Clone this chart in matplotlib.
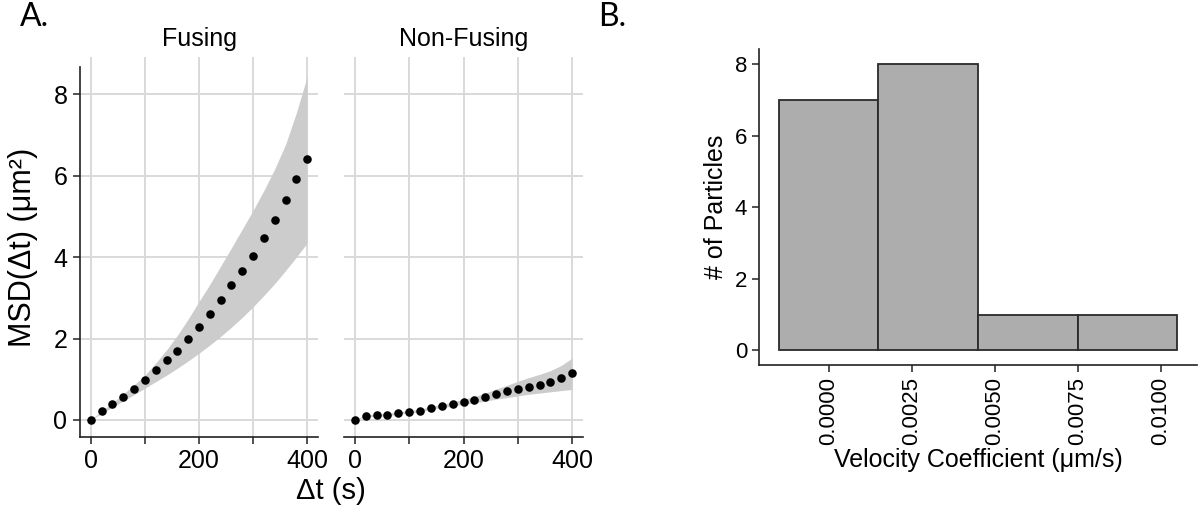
import numpy as np
import matplotlib
matplotlib.use("Agg")
import matplotlib.pyplot as plt

plt.rcParams['font.family'] = ['Liberation Sans', 'DejaVu Sans']

# MSD curves (panel A)
lag_s = [0, 20, 40, 60, 80, 100, 120, 140, 160, 180, 200,
         220, 240, 260, 280, 300, 320, 340, 360, 380, 400]
fusing_msd = [0, 0.22, 0.38, 0.57, 0.75, 0.98, 1.23, 1.47, 1.70, 1.99, 2.28,
              2.60, 2.95, 3.32, 3.67, 4.03, 4.46, 4.91, 5.41, 5.91, 6.42]
fusing_hi = [0, 0.22, 0.42, 0.64, 0.86, 1.10, 1.40, 1.72, 2.08, 2.48, 2.91,
             3.33, 3.78, 4.23, 4.69, 5.15, 5.64, 6.17, 6.77, 7.55, 8.44]
fusing_lo = [0, 0.16, 0.31, 0.47, 0.62, 0.78, 0.94, 1.10, 1.27, 1.45, 1.64,
             1.84, 2.05, 2.28, 2.52, 2.78, 3.06, 3.35, 3.67, 4.00, 4.35]
nonfusing_msd = [0, 0.10, 0.11, 0.13, 0.17, 0.20, 0.22, 0.30, 0.34, 0.39, 0.45,
                 0.49, 0.56, 0.64, 0.70, 0.76, 0.82, 0.87, 0.93, 1.03, 1.15]
nonfusing_hi = [0, 0.12, 0.14, 0.16, 0.20, 0.23, 0.26, 0.33, 0.38, 0.44, 0.51,
                0.57, 0.66, 0.76, 0.85, 0.95, 1.04, 1.12, 1.21, 1.34, 1.52]
nonfusing_lo = [0, 0.08, 0.09, 0.10, 0.14, 0.17, 0.19, 0.27, 0.30, 0.34, 0.39,
                0.42, 0.46, 0.51, 0.55, 0.59, 0.63, 0.66, 0.69, 0.72, 0.75]

# velocity coefficient histogram (panel B)
bin_edges = [-0.0015, 0.0015, 0.0045, 0.0075, 0.0105]
bin_counts = [7, 8, 1, 1]
vel_ticks = [0.0, 0.0025, 0.005, 0.0075, 0.01]

W, H = 1200, 513
fig = plt.figure(figsize=(W / 100, H / 100), dpi=100)


def box(l, t, r, b):
    return [l / W, 1 - b / H, (r - l) / W, (b - t) / H]


grid_c = '#d9d9d9'
spine_c = '#222222'

ax1 = fig.add_axes(box(80, 57, 318, 437))
ax2 = fig.add_axes(box(344, 57, 583, 437))

panels = [(ax1, 'Fusing', fusing_msd, fusing_lo, fusing_hi),
          (ax2, 'Non-Fusing', nonfusing_msd, nonfusing_lo, nonfusing_hi)]
for ax, title, msd, lo, hi in panels:
    ax.fill_between(lag_s, lo, hi, color='#cccccc', lw=0, zorder=1)
    ax.scatter(lag_s, msd, s=38, color='black', lw=0, zorder=3)
    ax.set_xlim(-20, 420)
    ax.set_ylim(-0.42, 8.92)
    ax.set_xticks([0, 100, 200, 300, 400])
    ax.set_xticklabels(['0', '', '200', '', '400'])
    ax.set_yticks([0, 2, 4, 6, 8])
    ax.grid(True, color=grid_c, lw=1.4, zorder=0)
    ax.set_axisbelow(True)
    for s in ['top', 'right']:
        ax.spines[s].set_visible(False)
    ax.spines['bottom'].set_color(spine_c)
    ax.spines['bottom'].set_linewidth(1.2)
    ax.tick_params(axis='both', labelsize=18, length=5, width=1.1,
                   color=spine_c, pad=4)
    ax.set_title(title, fontsize=18, pad=8)

ax1.spines['left'].set_color(spine_c)
ax1.spines['left'].set_linewidth(1.2)
ax1.spines['left'].set_bounds(-0.42, 8.67)
ax2.spines['left'].set_visible(False)
ax2.tick_params(axis='y', left=False, labelleft=False)

fig.text(23 / W, 1 - 247 / H, 'MSD(Δt) (μm²)', rotation=90, fontsize=22,
         ha='center', va='center')
fig.text(331 / W, 1 - 499 / H, 'Δt (s)', fontsize=21, ha='center',
         va='baseline')

# panel B
ax3 = fig.add_axes(box(759, 49, 1197, 365))
ax3.hist(bin_edges[:-1], bins=bin_edges, weights=bin_counts,
         color='#adadad', edgecolor='#2a2a2a', linewidth=1.3)
ax3.set_xlim(-0.0021, 0.0111)
ax3.set_ylim(-0.41, 8.42)
ax3.set_xticks(vel_ticks)
ax3.set_xticklabels(['%.4f' % v for v in vel_ticks], rotation=90)
ax3.set_yticks([0, 2, 4, 6, 8])
for s in ['top', 'right']:
    ax3.spines[s].set_visible(False)
for s in ['left', 'bottom']:
    ax3.spines[s].set_color(spine_c)
    ax3.spines[s].set_linewidth(1.2)
ax3.tick_params(axis='both', labelsize=16, length=5, width=1.1,
                color=spine_c, pad=3.5)
ax3.set_xlabel('Velocity Coefficient (μm/s)', fontsize=18, labelpad=2)
ax3.set_ylabel('# of Particles', fontsize=18, labelpad=5)

fig.text(20 / W, 1 - 26 / H, 'A.', fontsize=23, family=['Lato', 'DejaVu Sans'],
         va='baseline')
fig.text(598 / W, 1 - 26 / H, 'B.', fontsize=23, family=['Lato', 'DejaVu Sans'],
         va='baseline')

fig.savefig('out.png', dpi=100, facecolor='white')
